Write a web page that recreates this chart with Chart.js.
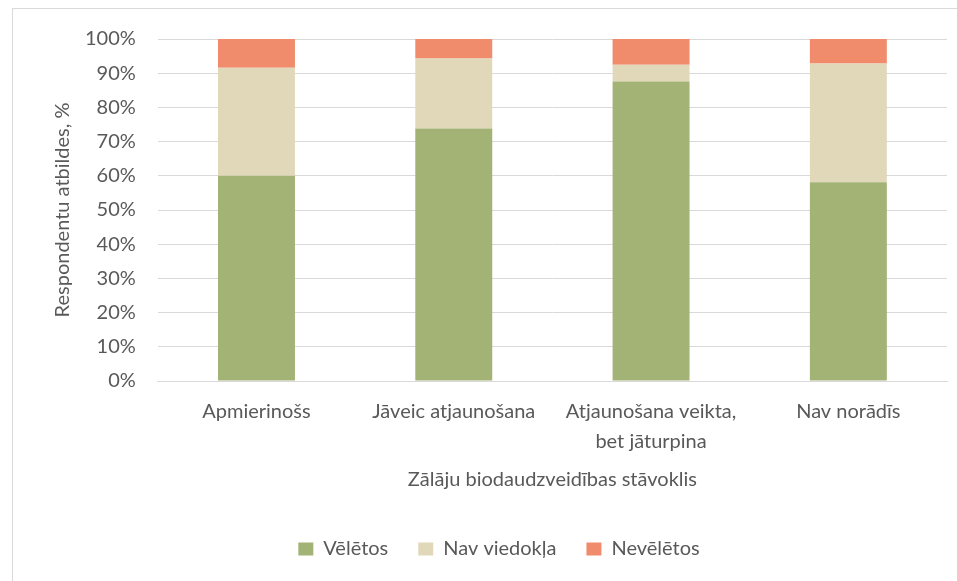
<!DOCTYPE html>
<html>
<head>
<meta charset="utf-8">
<script src="https://cdn.jsdelivr.net/npm/chart.js@4"></script>
<style>
  body { margin: 0; background: #fff; overflow: hidden; }
  #frame { position: absolute; left: 12px; top: 8px; width: 972px; height: 600px; border: 1px solid #d9d9d9; }
</style>
</head>
<body>
<div id="frame"><canvas id="chart"></canvas></div>
<script>
const categories = ['Apmierinošs', 'Jāveic atjaunošana', ['Atjaunošana veikta,', 'bet jāturpina'], 'Nav norādīs'];
const veletos = [60, 73.8, 87.6, 58.1];
const navViedokla = [31.6, 20.5, 4.9, 34.7];
const neveletos = [8.4, 5.7, 7.5, 7.2];

const textColor = '#595959';
const gridColor = '#d9d9d9';
Chart.defaults.font.family = 'Lato';
Chart.defaults.font.size = 20;
Chart.defaults.color = textColor;

function makeChart(canvas) {
  let ctx = canvas.getContext('2d');
  return new Chart(ctx, {
    type: 'bar',
    data: {
      labels: categories,
      datasets: [
        { label: 'Vēlētos', data: veletos, backgroundColor: '#a2b375' },
        { label: 'Nav viedokļa', data: navViedokla, backgroundColor: '#e1d8ba' },
        { label: 'Nevēlētos', data: neveletos, backgroundColor: '#f08c6c' }
      ]
    },
    options: {
      responsive: true,
      maintainAspectRatio: false,
      animation: false,
      datasets: {
        bar: { barPercentage: 0.39, categoryPercentage: 1 }
      },
      layout: {
        padding: { left: 38, right: 38, top: 26, bottom: 40 }
      },
      plugins: {
        tooltip: { enabled: false },
        legend: {
          position: 'bottom',
          labels: {
            boxWidth: 15,
            boxHeight: 13,
            padding: 30,
            color: textColor
          }
        }
      },
      scales: {
        x: {
          stacked: true,
          grid: { display: false },
          border: { color: gridColor },
          ticks: {
            padding: 8,
            maxRotation: 0,
            autoSkip: false,
            font: { lineHeight: 1.5 }
          },
          title: {
            display: true,
            text: 'Zālāju biodaudzveidības stāvoklis',
            padding: { top: 3, bottom: 17 }
          }
        },
        y: {
          stacked: true,
          min: 0,
          max: 100,
          grid: { color: gridColor, drawTicks: false },
          border: { display: false },
          ticks: {
            stepSize: 10,
            padding: 22,
            font: { lineHeight: 0.8 },
            callback: function (v) { return v + '%'; }
          },
          title: {
            display: true,
            text: 'Respondentu atbildes, %',
            padding: { top: 0, bottom: -12 }
          }
        }
      }
    }
  });
}

makeChart(document.getElementById('chart'));
</script>
</body>
</html>
